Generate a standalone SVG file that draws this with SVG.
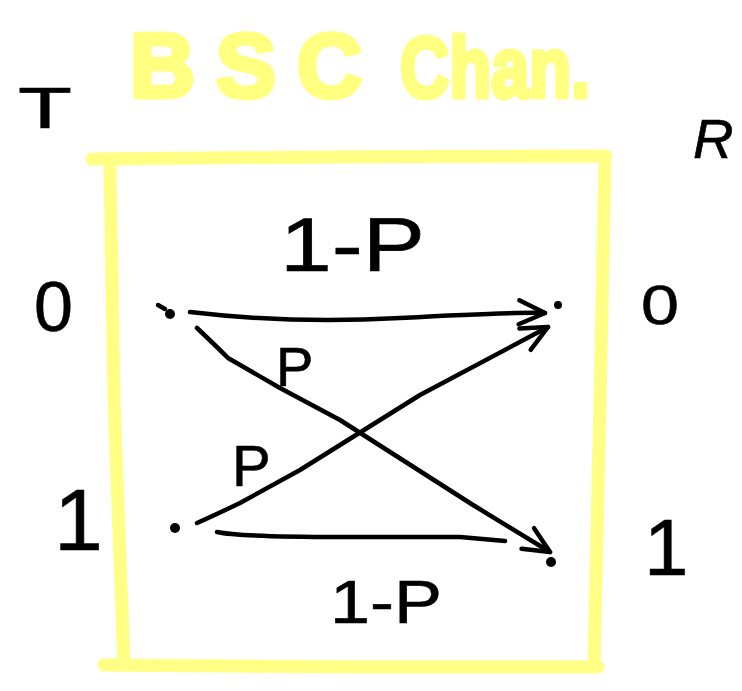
<svg xmlns="http://www.w3.org/2000/svg" width="742" height="691" viewBox="0 0 742 691">
<style>
.hand{font-family:"Liberation Sans","DejaVu Sans",sans-serif;fill:#000;stroke:#000;stroke-width:0.6;}
.title{font-family:"Liberation Sans","DejaVu Sans",sans-serif;font-weight:bold;fill:#ffff80;stroke:#ffff80;stroke-width:5;stroke-linejoin:round;}
.box{fill:none;stroke:#ffff85;stroke-width:13;stroke-linejoin:round;stroke-linecap:round;}
.edge{fill:none;stroke:#000;stroke-width:4.5;stroke-linecap:round;stroke-linejoin:round;}
.dot{fill:#000;}
</style>
<defs>
<marker id="arr" viewBox="-30 -16 34 32" refX="0" refY="0" markerWidth="34" markerHeight="32" markerUnits="userSpaceOnUse" orient="auto">
<path d="M-26,-12 L0,0 L-26,12" fill="none" stroke="#000" stroke-width="4.5" stroke-linecap="round" stroke-linejoin="round"/>
</marker>
</defs>
<rect width="742" height="691" fill="#fff"/>
<g id="title">
<text class="title" x="130" y="97" font-size="90" textLength="232" lengthAdjust="spacing">BSC</text>
<text class="title" x="400" y="97" font-size="86" textLength="190" lengthAdjust="spacingAndGlyphs">Chan.</text>
</g>
<g id="channel-box">
<path class="box" d="M92,159 L330,157 L606,156 M110,164 L114,400 L124,664 M605,160 L600,400 L594,664 M104,665 L350,667 L598,667"/>
</g>
<g id="side-labels">
<text class="hand" x="18" y="128" font-size="58" textLength="54" lengthAdjust="spacingAndGlyphs">T</text>
<text class="hand" x="693" y="158" font-size="56" font-style="italic">R</text>
<text class="hand" x="34" y="331" font-size="70">0</text>
<text class="hand" x="54" y="550" font-size="88">1</text>
<text class="hand" x="641" y="324" font-size="56" textLength="38" lengthAdjust="spacingAndGlyphs">0</text>
<text class="hand" x="644" y="575" font-size="80">1</text>
</g>
<g id="edge-labels">
<text class="hand" x="280" y="271" font-size="76" textLength="145" lengthAdjust="spacingAndGlyphs">1-P</text>
<text class="hand" x="330" y="623" font-size="62" textLength="112" lengthAdjust="spacingAndGlyphs">1-P</text>
<text class="hand" x="276" y="386" font-size="56">P</text>
<text class="hand" x="232" y="486" font-size="58">P</text>
</g>
<g id="node-T0"><circle class="dot" cx="170" cy="314" r="5"/><path class="edge" d="M158,305 L165,309" stroke-width="3"/></g>
<g id="node-T1"><circle class="dot" cx="175" cy="528" r="5"/></g>
<g id="node-R0"><circle class="dot" cx="558" cy="305" r="4"/></g>
<g id="node-R1"><circle class="dot" cx="551" cy="562" r="5"/></g>
<g id="connectors">
<path class="edge" marker-end="url(#arr)" d="M190,312 Q290,324 400,318 T545,313"/>
<path class="edge" marker-end="url(#arr)" d="M197,328 Q215,345 228,358 L280,388 L340,420 L473,505 L550,552"/>
<path class="edge" marker-end="url(#arr)" d="M197,523 Q215,515 240,503 L300,470 L420,395 L548,327"/>
<path class="edge" d="M217,532 Q240,537 340,537 L460,537 L505,541"/>
</g>
</svg>
